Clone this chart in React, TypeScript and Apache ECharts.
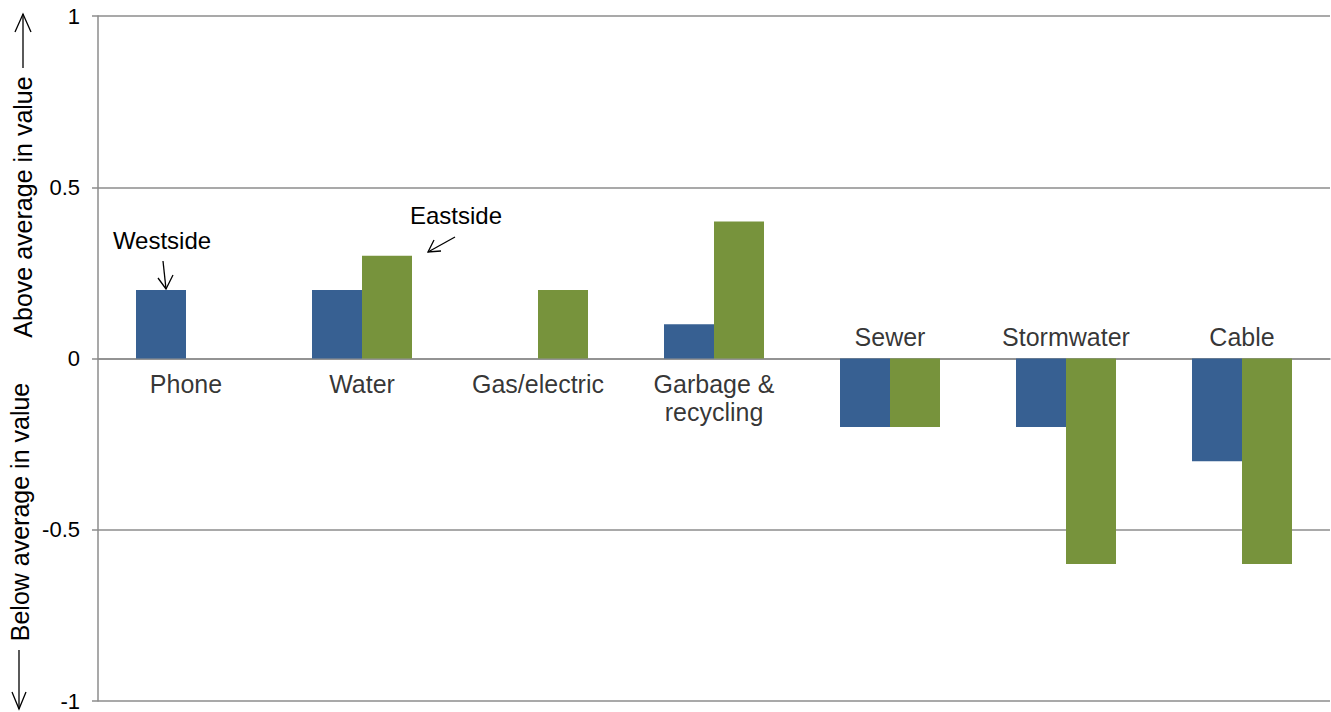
import React, { useEffect, useRef } from "react";
import * as echarts from "echarts";

const categories = ["Phone", "Water", "Gas/electric", "Garbage &\nrecycling", "Sewer", "Stormwater", "Cable"];
const westside = [0.2, 0.2, 0, 0.1, -0.2, -0.2, -0.3];
const eastside = [0, 0.3, 0.2, 0.4, -0.2, -0.6, -0.6];
const yTicks = { min: -1, max: 1, interval: 0.5 };

const FONT = "Liberation Sans, Arial, sans-serif";

export default function App() {
  const ref = useRef<HTMLDivElement>(null);
  useEffect(() => {
    document.body.style.margin = "0";
    const chart = echarts.init(ref.current!, undefined, { renderer: "svg" });
    const labelData = categories.map((c, i) => {
      const neg = Math.max(westside[i], eastside[i]) < 0;
      return {
        value: [i, 0],
        label: {
          position: neg ? "top" : "bottom",
          distance: neg ? 8 : 11,
        },
      };
    });
    const gray = "#8c8c8c";
    const black = "#000";
    const line = (x1: number, y1: number, x2: number, y2: number) => ({
      type: "line",
      shape: { x1, y1, x2, y2 },
      style: { stroke: black, lineWidth: 1.3 },
    });
    const poly = (pts: number[][]) => ({
      type: "polyline",
      shape: { points: pts },
      style: { stroke: black, lineWidth: 1.3, fill: null },
    });
    chart.setOption({
      animation: false,
      grid: { left: 98, right: 1, top: 16, bottom: 8, containLabel: false },
      xAxis: {
        type: "category",
        data: categories,
        axisLine: { show: true, onZero: true, lineStyle: { color: gray, width: 1.5 } },
        axisTick: { show: false },
        axisLabel: { show: false },
        splitLine: { show: false },
      },
      yAxis: {
        type: "value",
        min: yTicks.min,
        max: yTicks.max,
        interval: yTicks.interval,
        axisLine: { show: true, lineStyle: { color: gray, width: 1.5 } },
        axisTick: { show: true, length: 6, lineStyle: { color: gray, width: 1.5 } },
        axisLabel: { margin: 18, color: black, fontSize: 22, fontFamily: FONT },
        splitLine: { show: true, lineStyle: { color: gray, width: 1.5 } },
      },
      series: [
        {
          name: "Westside",
          type: "bar",
          data: westside,
          barWidth: 50,
          barGap: "0%",
          itemStyle: { color: "#376092" },
        },
        {
          name: "Eastside",
          type: "bar",
          data: eastside,
          barWidth: 50,
          barGap: "0%",
          itemStyle: { color: "#77933c" },
        },
        {
          type: "scatter",
          data: labelData,
          symbolSize: 0,
          silent: true,
          z: 5,
          label: {
            show: true,
            formatter: (p: any) => categories[p.dataIndex],
            color: black,
            fontSize: 25,
            lineHeight: 28,
            fontFamily: FONT,
            align: "center",
          },
        },
      ],
      graphic: [
        {
          type: "text",
          x: 23,
          y: 207,
          rotation: Math.PI / 2,
          style: { text: "Above average in value", font: `25px ${FONT}`, fill: black, align: "center", verticalAlign: "middle" },
        },
        line(23, 68, 23, 14),
        poly([[15, 32], [23, 14], [31, 32]]),
        {
          type: "text",
          x: 20,
          y: 512,
          rotation: Math.PI / 2,
          style: { text: "Below average in value", font: `25px ${FONT}`, fill: black, align: "center", verticalAlign: "middle" },
        },
        line(19, 650, 19, 709),
        poly([[12, 692], [19, 709], [26, 692]]),
        {
          type: "text",
          x: 162,
          y: 240,
          style: { text: "Westside", font: `24px ${FONT}`, fill: black, align: "center", verticalAlign: "middle" },
        },
        line(163, 261, 166, 289),
        poly([[158, 278], [166, 289], [173, 275]]),
        {
          type: "text",
          x: 456,
          y: 215,
          style: { text: "Eastside", font: `24px ${FONT}`, fill: black, align: "center", verticalAlign: "middle" },
        },
        line(455, 237, 428, 252),
        poly([[434, 240], [428, 252], [441, 251]]),
      ],
    });
    return () => chart.dispose();
  }, []);
  return <div ref={ref} style={{ width: 1331, height: 712 }} />;
}
